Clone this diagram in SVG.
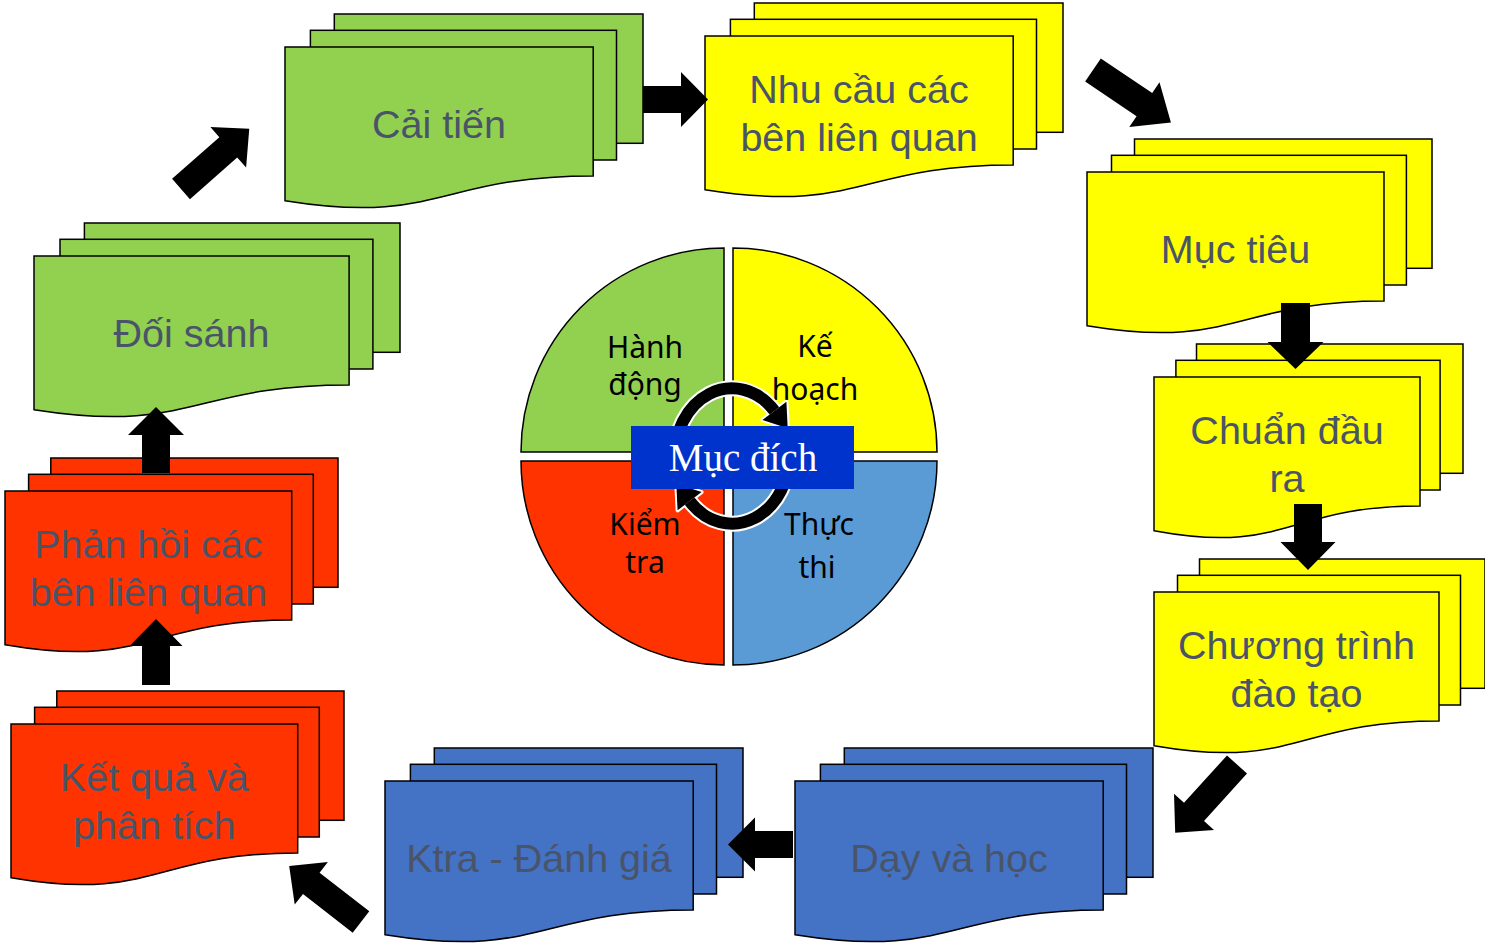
<svg xmlns="http://www.w3.org/2000/svg" width="1485" height="947" viewBox="0 0 1485 947">
<style>
.doc rect,.doc path{stroke:#000;stroke-width:1.5}
.g rect,.g path{fill:#92D050}
.y rect,.y path{fill:#FFFF00}
.r rect,.r path{fill:#FF3300}
.b rect,.b path{fill:#4472C4}
.lbl{font-family:"Liberation Sans",Arial,sans-serif;font-size:39.5px;fill:#4A5468;text-anchor:middle}
.q{stroke:#000;stroke-width:1.5}
.qt{font-family:"Noto Sans","Open Sans",sans-serif;font-size:30px;fill:#000;text-anchor:middle}
.arrow{fill:#000}
</style>
<rect width="1485" height="947" fill="#fff"/>

<g id="n-caitien" class="doc g" transform="translate(285,14)">
<rect x="49.3" y="0" width="308.7" height="129.3"/>
<rect x="25.4" y="16.3" width="306.1" height="129.7"/>
<path d="M0,33 H308.2 V161.9 C154.1,161.9 154.1,211.4 0,186.7 Z"/>
<text class="lbl" x="154" y="124">Cải tiến</text>
</g>

<g id="n-nhucau" class="doc y" transform="translate(705,3)">
<rect x="49.3" y="0" width="308.7" height="129.3"/>
<rect x="25.4" y="16.3" width="306.1" height="129.7"/>
<path d="M0,33 H308.2 V161.9 C154.1,161.9 154.1,211.4 0,186.7 Z"/>
<text class="lbl" x="154" y="100">Nhu cầu các</text>
<text class="lbl" x="154" y="148">bên liên quan</text>
</g>

<g id="n-muctieu" class="doc y" transform="translate(1087,139)">
<rect x="47.5" y="0" width="297.5" height="129.3"/>
<rect x="24.5" y="16.3" width="294.9" height="129.7"/>
<path d="M0,33 H297 V161.9 C148.5,161.9 148.5,211.4 0,186.7 Z"/>
<text class="lbl" x="148.5" y="124">Mục tiêu</text>
</g>

<g id="n-chuandaura" class="doc y" transform="translate(1154,344)">
<rect x="42.5" y="0" width="266.5" height="129.3"/>
<rect x="21.9" y="16.3" width="264.2" height="129.7"/>
<path d="M0,33 H266 V161.9 C133,161.9 133,211.4 0,186.7 Z"/>
<text class="lbl" x="133" y="100">Chuẩn đầu</text>
<text class="lbl" x="133" y="148">ra</text>
</g>

<g id="n-chuongtrinh" class="doc y" transform="translate(1154,559)">
<rect x="45.5" y="0" width="285.5" height="129.3"/>
<rect x="23.5" y="16.3" width="283" height="129.7"/>
<path d="M0,33 H285 V161.9 C142.5,161.9 142.5,211.4 0,186.7 Z"/>
<text class="lbl" x="142.5" y="100">Chương trình</text>
<text class="lbl" x="142.5" y="148">đào tạo</text>
</g>

<g id="n-dayvahoc" class="doc b" transform="translate(795,748)">
<rect x="49.3" y="0" width="308.7" height="129.3"/>
<rect x="25.4" y="16.3" width="306.1" height="129.7"/>
<path d="M0,33 H308.2 V161.9 C154.1,161.9 154.1,211.4 0,186.7 Z"/>
<text class="lbl" x="154" y="124">Dạy và học</text>
</g>

<g id="n-ktra" class="doc b" transform="translate(385,748)">
<rect x="49.3" y="0" width="308.7" height="129.3"/>
<rect x="25.4" y="16.3" width="306.1" height="129.7"/>
<path d="M0,33 H308.2 V161.9 C154.1,161.9 154.1,211.4 0,186.7 Z"/>
<text class="lbl" x="154" y="124">Ktra - Đánh giá</text>
</g>

<g id="n-ketqua" class="doc r" transform="translate(11,691)">
<rect x="45.8" y="0" width="287.2" height="129.3"/>
<rect x="23.6" y="16.3" width="284.7" height="129.7"/>
<path d="M0,33 H286.7 V161.9 C143.3,161.9 143.3,211.4 0,186.7 Z"/>
<text class="lbl" x="143.3" y="100">Kết quả và</text>
<text class="lbl" x="143.3" y="148">phân tích</text>
</g>

<g id="n-phanhoi" class="doc r" transform="translate(5,458)">
<rect x="45.8" y="0" width="287.2" height="129.3"/>
<rect x="23.6" y="16.3" width="284.7" height="129.7"/>
<path d="M0,33 H286.7 V161.9 C143.3,161.9 143.3,211.4 0,186.7 Z"/>
<text class="lbl" x="143.3" y="100">Phản hồi các</text>
<text class="lbl" x="143.3" y="148">bên liên quan</text>
</g>

<g id="n-doisanh" class="doc g" transform="translate(34,223)">
<rect x="50.4" y="0" width="315.6" height="129.3"/>
<rect x="26" y="16.3" width="312.9" height="129.7"/>
<path d="M0,33 H315.1 V161.9 C157.5,161.9 157.5,211.4 0,186.7 Z"/>
<text class="lbl" x="157.5" y="124">Đối sánh</text>
</g>

<g id="pdca">
<g id="q-act">
<path class="q" fill="#92D050" d="M724,452 H521 A203,204 0 0 1 724,248 Z"/>
<text class="qt" x="645" y="358">Hành</text>
<text class="qt" x="645" y="395">động</text>
</g>
<g id="q-plan">
<path class="q" fill="#FFFF00" d="M733,452 V248 A204,204 0 0 1 937,452 Z"/>
<text class="qt" x="815" y="357">Kế</text>
<text class="qt" x="815" y="400">hoạch</text>
</g>
<g id="q-do">
<path class="q" fill="#5B9BD5" d="M733,461 H937 A204,204 0 0 1 733,665 Z"/>
<text class="qt" x="819" y="535">Thực</text>
<text class="qt" x="817" y="578">thi</text>
</g>
<g id="q-check">
<path class="q" fill="#FF3300" d="M724,461 V665 A203,204 0 0 1 521,461 Z"/>
<text class="qt" x="645" y="535">Kiểm</text>
<text class="qt" x="645" y="573">tra</text>
</g>
<g id="cycle">
<g fill="none" stroke="#fff" stroke-width="16">
<path d="M675.2,461.9 A57,67.5 0 0 1 774.4,410.8"/>
<path d="M788.8,450.1 A57,67.5 0 0 1 689.6,501.2"/>
</g>
<g fill="#fff" stroke="#fff" stroke-width="4" stroke-linejoin="round">
<polygon points="786.4,401.7 762.4,419.9 787.7,428.3"/>
<polygon points="701.6,492.1 677.6,510.3 676.3,483.7"/>
</g>
<g fill="none" stroke="#000" stroke-width="12">
<path d="M675.2,461.9 A57,67.5 0 0 1 774.4,410.8"/>
<path d="M788.8,450.1 A57,67.5 0 0 1 689.6,501.2"/>
</g>
<g fill="#000">
<polygon points="786.4,401.7 762.4,419.9 787.7,428.3"/>
<polygon points="701.6,492.1 677.6,510.3 676.3,483.7"/>
</g>
</g>
<g id="n-mucdich">
<rect x="631" y="426" width="223" height="63" fill="#0033CC"/>
<text x="743" y="471" font-family="'Liberation Serif','Times New Roman',serif" font-size="39" fill="#fff" text-anchor="middle">Mục đích</text>
</g>
</g>

<g id="connectors" class="arrow">
<polygon transform="translate(643,99.5)" points="0,-13.5 38,-13.5 38,-27.5 65,0 38,27.5 38,13.5 0,13.5"/>
<polygon transform="translate(1093,70) rotate(34)" points="0,-14 62,-14 62,-27 94,0 62,27 62,14 0,14"/>
<polygon transform="translate(1295.5,303) rotate(90)" points="0,-14.5 39,-14.5 39,-28 66,0 39,28 39,14.5 0,14.5"/>
<polygon transform="translate(1308,504) rotate(90)" points="0,-14 38,-14 38,-27.5 66,0 38,27.5 38,14 0,14"/>
<polygon transform="translate(1237,764.5) rotate(132.2)" points="0,-13.5 64,-13.5 64,-27 92,0 64,27 64,13.5 0,13.5"/>
<polygon transform="translate(793,844.5) rotate(180)" points="0,-13.5 38,-13.5 38,-27 65,0 38,27 38,13.5 0,13.5"/>
<polygon transform="translate(361,922) rotate(217.9)" points="0,-13.5 63,-13.5 63,-27 91,0 63,27 63,13.5 0,13.5"/>
<polygon transform="translate(156,685) rotate(-90)" points="0,-14 39,-14 39,-26.5 66,0 39,26.5 39,14 0,14"/>
<polygon transform="translate(156,473) rotate(-90)" points="0,-14 38,-14 38,-28 66,0 38,28 38,14 0,14"/>
<polygon transform="translate(181,189) rotate(-41.4)" points="0,-13.5 63,-13.5 63,-27 91,0 63,27 63,13.5 0,13.5"/>
</g>
</svg>
